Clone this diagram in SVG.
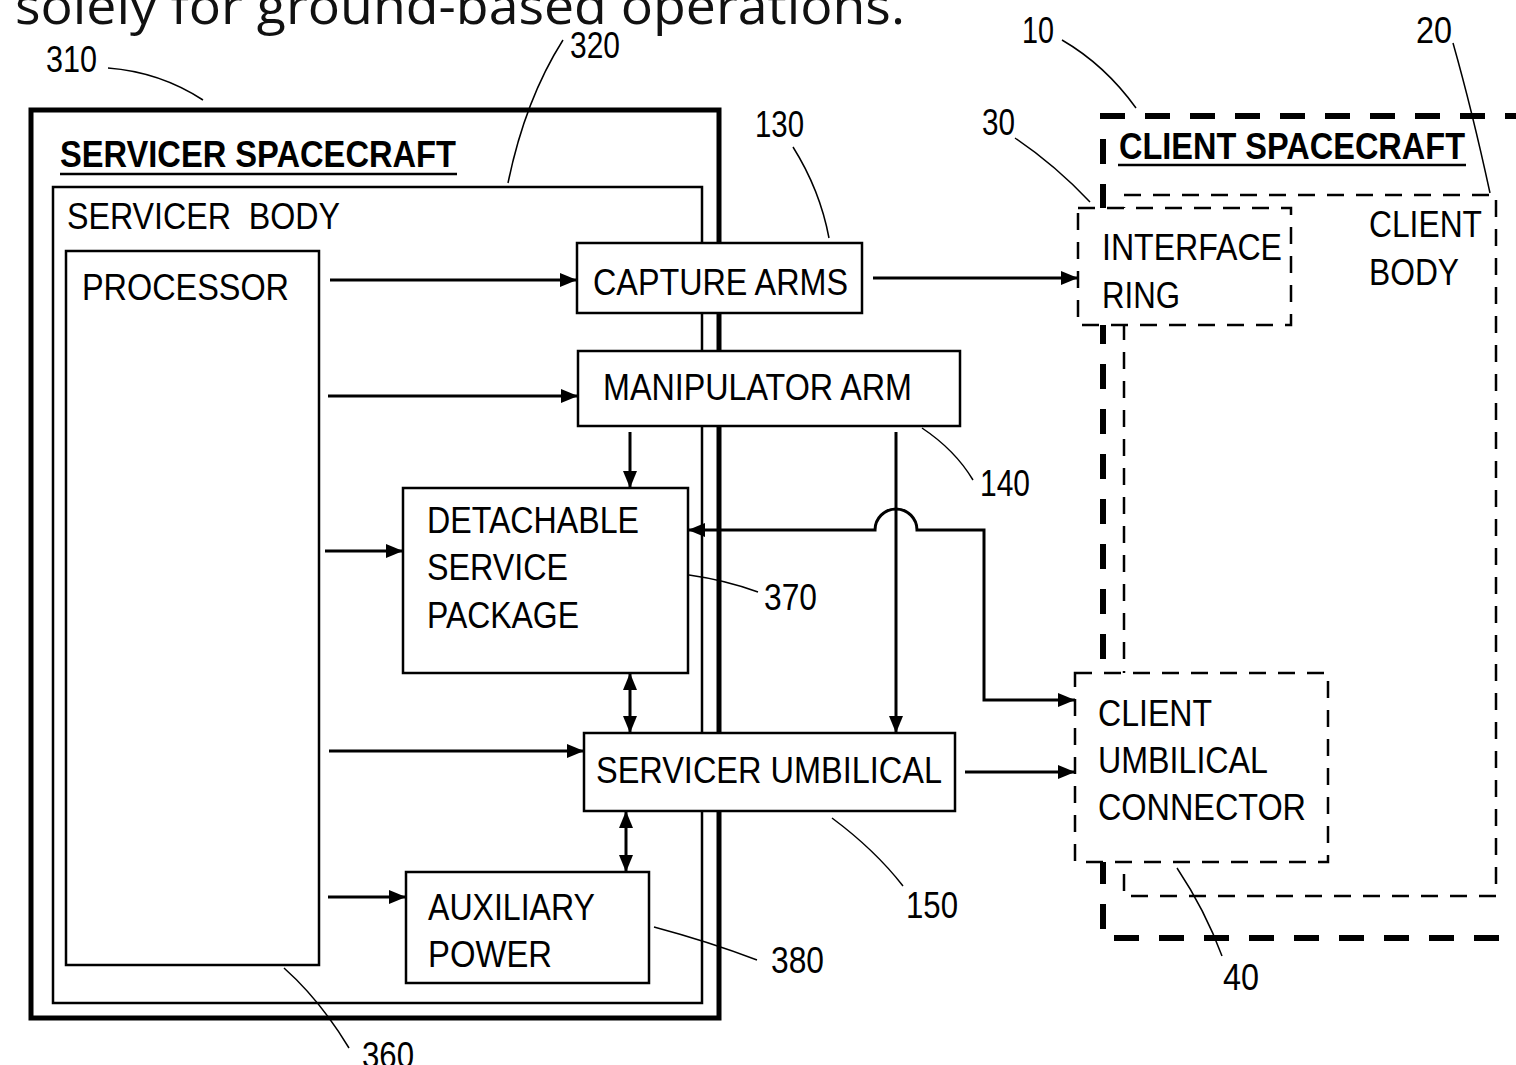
<svg xmlns="http://www.w3.org/2000/svg" width="1516" height="1065" viewBox="0 0 1516 1065">
<style>
.box{fill:#fff;stroke:#000;stroke-width:2.5}
.frame{fill:none;stroke:#000}
.dash{fill:#fff;stroke:#000;stroke-width:2.5;stroke-dasharray:17 12}
.t{font-family:"Liberation Sans Narrow","Liberation Sans",Arial,sans-serif;font-size:37px;fill:#000}
.b{font-weight:bold}
.ln{fill:none;stroke:#000;stroke-width:3}
.ld{fill:none;stroke:#000;stroke-width:1.5}
</style>
<defs>
<marker id="ah" markerUnits="userSpaceOnUse" markerWidth="17" markerHeight="14" refX="17" refY="7" orient="auto-start-reverse">
<path d="M0,0 L17,7 L0,14 z" fill="#000"/>
</marker>
</defs>
<rect width="1516" height="1065" fill="#fff"/>
<text x="15" y="24" font-family="'Open Sans','Noto Sans',sans-serif" font-size="52" fill="#111" textLength="890" lengthAdjust="spacingAndGlyphs">solely for ground-based operations.</text>

<g id="servicer-spacecraft">
<rect class="frame" x="31" y="110" width="688" height="908" stroke-width="5"/>
<text class="t b" x="60" y="167" textLength="396" lengthAdjust="spacingAndGlyphs">SERVICER SPACECRAFT</text>
<line x1="60" y1="174" x2="457" y2="174" stroke="#000" stroke-width="2.5"/>
</g>
<g id="servicer-body">
<rect class="frame" x="53" y="187" width="649" height="816" stroke-width="2.5"/>
<text class="t" x="67" y="229" textLength="273" lengthAdjust="spacingAndGlyphs" xml:space="preserve" style="white-space:pre">SERVICER  BODY</text>
</g>
<g id="processor">
<rect class="box" x="66" y="251" width="253" height="714"/>
<text class="t" x="82" y="300" textLength="207" lengthAdjust="spacingAndGlyphs">PROCESSOR</text>
</g>
<g id="client-spacecraft">
<path d="M1530,116 H1103 V938 H1530" fill="none" stroke="#000" stroke-width="6" stroke-dasharray="25 20"/>
<text class="t b" x="1119" y="159" textLength="346" lengthAdjust="spacingAndGlyphs">CLIENT SPACECRAFT</text>
<line x1="1118" y1="165" x2="1466" y2="165" stroke="#000" stroke-width="2.5"/>
</g>
<g id="client-body">
<rect x="1124" y="195" width="372" height="701" fill="none" stroke="#000" stroke-width="2.5" stroke-dasharray="17 12"/>
<text class="t" x="1369" y="237" textLength="113" lengthAdjust="spacingAndGlyphs">CLIENT</text>
<text class="t" x="1369" y="285" textLength="90" lengthAdjust="spacingAndGlyphs">BODY</text>
</g>

<g id="connectors">
<line class="ln" x1="330" y1="280" x2="577" y2="280" marker-end="url(#ah)"/>
<line class="ln" x1="328" y1="396" x2="578" y2="396" marker-end="url(#ah)"/>
<line class="ln" x1="325" y1="551" x2="403" y2="551" marker-end="url(#ah)"/>
<line class="ln" x1="329" y1="751" x2="584" y2="751" marker-end="url(#ah)"/>
<line class="ln" x1="328" y1="897" x2="406" y2="897" marker-end="url(#ah)"/>
<line class="ln" x1="873" y1="278" x2="1078" y2="278" marker-end="url(#ah)"/>
<line class="ln" x1="630" y1="432" x2="630" y2="488" marker-end="url(#ah)"/>
<line class="ln" x1="896" y1="432" x2="896" y2="733" marker-end="url(#ah)"/>
<path class="ln" d="M688,530 H875 A21,21 0 0 1 917,530 H984 V700 H1075" marker-start="url(#ah)" marker-end="url(#ah)"/>
<line class="ln" x1="965" y1="772" x2="1075" y2="772" marker-end="url(#ah)"/>
<line class="ln" x1="630" y1="673" x2="630" y2="733" marker-start="url(#ah)" marker-end="url(#ah)"/>
<line class="ln" x1="626" y1="811" x2="626" y2="872" marker-start="url(#ah)" marker-end="url(#ah)"/>
</g>

<g id="capture-arms">
<rect class="box" x="577" y="243" width="285" height="70"/>
<text class="t" x="593" y="295" textLength="255" lengthAdjust="spacingAndGlyphs">CAPTURE ARMS</text>
</g>
<g id="manipulator-arm">
<rect class="box" x="578" y="351" width="382" height="75"/>
<text class="t" x="603" y="400" textLength="309" lengthAdjust="spacingAndGlyphs">MANIPULATOR ARM</text>
</g>
<g id="detachable-service-package">
<rect class="box" x="403" y="488" width="285" height="185"/>
<text class="t" x="427" y="533" textLength="212" lengthAdjust="spacingAndGlyphs">DETACHABLE</text>
<text class="t" x="427" y="580" textLength="141" lengthAdjust="spacingAndGlyphs">SERVICE</text>
<text class="t" x="427" y="628" textLength="152" lengthAdjust="spacingAndGlyphs">PACKAGE</text>
</g>
<g id="servicer-umbilical">
<rect class="box" x="584" y="733" width="371" height="78"/>
<text class="t" x="596" y="783" textLength="346" lengthAdjust="spacingAndGlyphs">SERVICER UMBILICAL</text>
</g>
<g id="auxiliary-power">
<rect class="box" x="406" y="872" width="243" height="111"/>
<text class="t" x="428" y="920" textLength="167" lengthAdjust="spacingAndGlyphs">AUXILIARY</text>
<text class="t" x="428" y="967" textLength="124" lengthAdjust="spacingAndGlyphs">POWER</text>
</g>
<g id="interface-ring">
<rect class="dash" x="1078" y="208" width="213" height="117"/>
<text class="t" x="1102" y="260" textLength="180" lengthAdjust="spacingAndGlyphs">INTERFACE</text>
<text class="t" x="1102" y="308" textLength="78" lengthAdjust="spacingAndGlyphs">RING</text>
</g>
<g id="client-umbilical-connector">
<rect class="dash" x="1075" y="673" width="253" height="189"/>
<text class="t" x="1098" y="726" textLength="114" lengthAdjust="spacingAndGlyphs">CLIENT</text>
<text class="t" x="1098" y="773" textLength="170" lengthAdjust="spacingAndGlyphs">UMBILICAL</text>
<text class="t" x="1098" y="820" textLength="208" lengthAdjust="spacingAndGlyphs">CONNECTOR</text>
</g>

<g id="reference-labels">
<path class="ld" d="M108,68 Q160,72 203,100"/>
<path class="ld" d="M563,40 Q525,100 508,183"/>
<path class="ld" d="M793,147 Q820,190 829,238"/>
<path class="ld" d="M1015,138 Q1055,165 1090,202"/>
<path class="ld" d="M1062,40 Q1105,65 1136,108"/>
<path class="ld" d="M1453,43 Q1472,110 1490,193"/>
<path class="ld" d="M922,428 Q955,450 973,480"/>
<path class="ld" d="M689,575 Q725,580 758,592"/>
<path class="ld" d="M832,818 Q875,850 903,886"/>
<path class="ld" d="M654,927 Q710,942 757,960"/>
<path class="ld" d="M284,968 Q320,1000 349,1048"/>
<path class="ld" d="M1177,868 Q1205,910 1222,956"/>
<text class="t" x="46" y="72" textLength="51" lengthAdjust="spacingAndGlyphs">310</text>
<text class="t" x="570" y="58" textLength="50" lengthAdjust="spacingAndGlyphs">320</text>
<text class="t" x="755" y="137" textLength="49" lengthAdjust="spacingAndGlyphs">130</text>
<text class="t" x="982" y="135" textLength="33" lengthAdjust="spacingAndGlyphs">30</text>
<text class="t" x="1022" y="43" textLength="32" lengthAdjust="spacingAndGlyphs">10</text>
<text class="t" x="1416" y="43" textLength="36" lengthAdjust="spacingAndGlyphs">20</text>
<text class="t" x="980" y="496" textLength="50" lengthAdjust="spacingAndGlyphs">140</text>
<text class="t" x="764" y="610" textLength="53" lengthAdjust="spacingAndGlyphs">370</text>
<text class="t" x="906" y="918" textLength="52" lengthAdjust="spacingAndGlyphs">150</text>
<text class="t" x="771" y="973" textLength="53" lengthAdjust="spacingAndGlyphs">380</text>
<text class="t" x="362" y="1068" textLength="52" lengthAdjust="spacingAndGlyphs">360</text>
<text class="t" x="1223" y="990" textLength="36" lengthAdjust="spacingAndGlyphs">40</text>
</g>
</svg>
